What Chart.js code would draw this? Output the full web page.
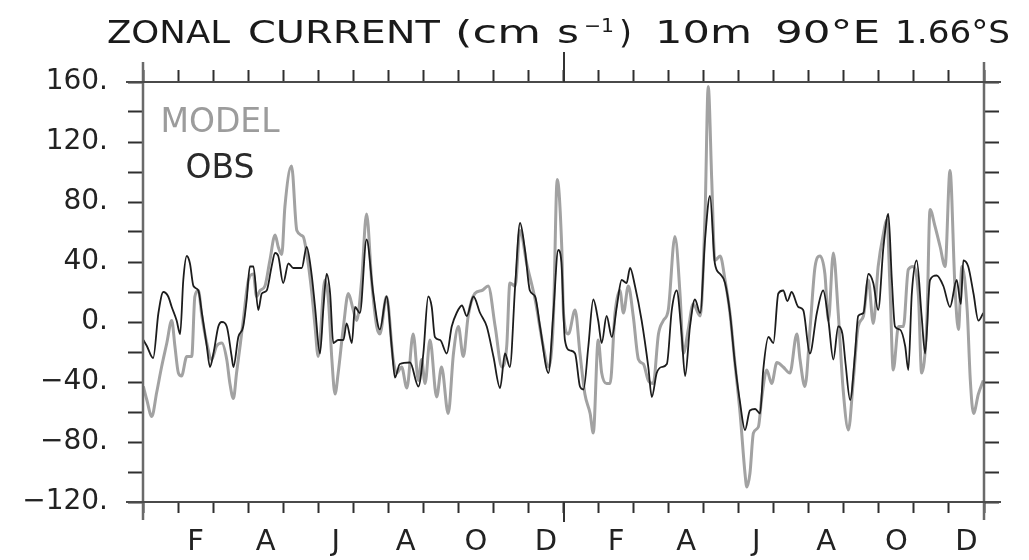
<!DOCTYPE html>
<html>
<head>
<meta charset="utf-8">
<script src="https://cdn.jsdelivr.net/npm/chart.js@4.4.1/dist/chart.umd.min.js"></script>
<style>
  html, body { margin: 0; padding: 0; background: #ffffff; }
  #wrap { width: 1029px; height: 560px; position: relative; }
</style>
</head>
<body>
<div id="wrap"><canvas id="c"></canvas></div>
<script>
// ---- data (time in months from start of record; values in cm/s) ----
const monthLabels = ['F','A','J','A','O','D','F','A','J','A','O','D'];
const yTickLabels = ['\u2212120.','\u221280.','\u221240.','0.','40.','80.','120.','160.'];
const seriesNames = ['MODEL', 'OBS'];

const obsT = [0.01,0.11,0.29,0.44,0.58,0.72,0.82,0.96,1.06,1.15,1.25,1.34,1.44,1.58,1.68,1.82,1.91,2.01,2.15,2.25,2.39,2.53,2.58,2.72,2.86,2.96,3.05,3.15,3.29,3.39,3.53,3.67,3.77,3.86,4.00,4.15,4.29,4.53,4.67,4.81,4.91,5.05,5.15,5.24,5.34,5.43,5.57,5.72,5.81,5.96,6.05,6.19,6.38,6.57,6.76,6.95,7.10,7.19,7.33,7.62,7.86,8.00,8.14,8.24,8.33,8.48,8.67,8.81,8.95,9.10,9.24,9.43,9.62,9.81,10.00,10.19,10.33,10.47,10.62,10.76,10.90,11.04,11.19,11.33,11.57,11.71,11.85,11.94,12.04,12.19,12.33,12.47,12.57,12.71,12.85,12.99,13.09,13.23,13.38,13.52,13.66,13.80,13.90,14.04,14.23,14.42,14.52,14.66,14.80,14.95,15.09,15.23,15.37,15.47,15.61,15.75,15.90,16.04,16.18,16.32,16.47,16.61,16.75,16.89,17.04,17.18,17.32,17.47,17.61,17.70,17.85,17.99,18.13,18.27,18.39,18.51,18.70,18.84,19.03,19.23,19.41,19.56,19.70,19.84,19.96,20.05,20.18,20.32,20.41,20.56,20.70,20.84,20.98,21.13,21.27,21.37,21.46,21.60,21.75,21.84,21.94,22.08,22.22,22.32,22.46,22.65,22.84,23.03,23.22,23.34,23.41,23.55,23.70,23.84,23.98];
const obsV = [-12,-16,-24,6,20,17,10,1,-8,28,44,39,24,21,6,-16,-30,-21,-3,0,-3,-23,-30,-10,-3,15,37,37,8,19,21,37,46,44,26,39,36,36,50,32,10,-21,10,32,19,-14,-12,-12,-1,-14,10,6,55,19,-5,17,-17,-37,-28,-27,-43,-21,17,10,-10,-12,-21,-3,6,11,4,17,6,-3,-23,-44,-21,-30,24,66,48,21,17,-3,-34,6,48,40,-12,-19,-21,-43,-45,-16,15,1,-14,4,-10,10,28,26,36,24,1,-30,-50,-34,-30,-28,8,21,-8,-36,-3,15,6,55,84,39,32,26,6,-27,-54,-72,-59,-58,-61,-32,-10,-14,19,21,14,20,10,8,-21,6,21,1,-25,-3,-8,-28,-52,-21,4,6,32,26,8,50,72,28,-3,-5,-16,-32,19,41,4,-21,28,31,24,10,28,12,41,37,19,1,6];

const modelT = [0.01,0.11,0.25,0.39,0.53,0.68,0.82,0.91,1.01,1.10,1.25,1.39,1.48,1.58,1.68,1.82,1.96,2.10,2.25,2.39,2.48,2.58,2.67,2.77,2.86,3.01,3.15,3.24,3.34,3.48,3.62,3.77,3.86,3.96,4.05,4.24,4.39,4.57,4.67,4.81,4.91,5.00,5.19,5.29,5.39,5.48,5.57,5.72,5.86,6.00,6.10,6.24,6.38,6.53,6.67,6.76,6.95,7.14,7.24,7.38,7.53,7.71,7.86,7.95,8.05,8.19,8.38,8.52,8.71,8.86,9.00,9.14,9.28,9.47,9.67,9.85,10.05,10.24,10.38,10.47,10.62,10.76,10.95,11.19,11.42,11.57,11.71,11.82,11.95,12.00,12.14,12.33,12.47,12.61,12.76,12.85,12.99,13.09,13.23,13.33,13.47,13.61,13.71,13.85,13.99,14.14,14.28,14.42,14.56,14.71,14.85,14.99,15.18,15.33,15.42,15.56,15.70,15.90,16.04,16.13,16.23,16.32,16.47,16.61,16.75,16.89,17.04,17.18,17.23,17.32,17.42,17.56,17.66,17.80,17.94,18.09,18.27,18.46,18.66,18.75,18.89,19.04,19.18,19.32,19.46,19.56,19.70,19.84,19.98,20.13,20.27,20.41,20.56,20.70,20.84,20.98,21.13,21.23,21.32,21.41,21.56,21.70,21.84,21.98,22.13,22.22,22.37,22.46,22.60,22.75,22.89,23.03,23.17,23.27,23.37,23.52,23.61,23.70,23.84,23.98];
const modelV = [-43,-52,-63,-47,-30,-14,1,-16,-34,-36,-23,-23,17,21,4,-14,-25,-16,-14,-25,-41,-51,-34,-16,1,28,32,17,21,24,41,58,50,45,77,104,61,57,46,21,-3,-23,28,15,-25,-48,-34,-3,19,8,1,28,72,26,-3,-8,17,-25,-34,-30,-44,-8,-39,-25,-41,-12,-50,-30,-61,-21,-3,-23,4,19,21,24,-3,-30,-16,26,24,61,39,15,-16,-30,1,95,50,6,-8,8,-21,-48,-61,-74,-12,-34,-41,-41,6,21,6,24,4,-25,-28,-39,-41,-8,1,8,57,17,-21,-5,12,4,72,157,95,41,44,28,6,-27,-61,-101,-110,-101,-74,-70,-50,-32,-41,-27,-30,-34,-8,-25,-43,-3,37,44,32,1,46,6,-45,-72,-39,-3,4,28,-1,37,59,68,21,-32,-3,-3,35,37,17,-34,1,75,64,50,37,101,24,-5,37,8,-39,-61,-48,-39];

const toPoints = (t, v) => t.map((x, i) => ({ x: x, y: v[i] }));

// title "ZONAL CURRENT (cm s⁻¹) 10m 90°E 1.66°S", drawn word by word:
// [text, left x, width, font size, baseline y]
const titleParts = [
  ['ZONAL', 107, 123, 32, 43],
  ['CURRENT', 248, 192, 32, 43],
  ['(cm', 455, 86, 32, 43],
  ['s', 557, 22, 32, 43],
  ['\u22121', 584, 30, 19, 32],
  [')', 619, 13, 32, 43],
  ['10m', 655, 97, 32, 43],
  ['90\u00B0E', 775, 105, 32, 43],
  ['1.66\u00B0S', 895, 115, 32, 43]
];

// ---- custom drawing: frame, year tick, title, in-plot legend ----
const decorPlugin = {
  id: 'decor',
  afterDatasetsDraw(chart) {
    const ctx = chart.ctx;
    const a = chart.chartArea;
    const xs = chart.scales.x;
    ctx.save();
    ctx.lineCap = 'butt';
    ctx.strokeStyle = '#6a6a6a';
    ctx.lineWidth = 2.5;
    ctx.beginPath();
    ctx.moveTo(a.left, a.top - 20); ctx.lineTo(a.left, a.bottom + 18);
    ctx.moveTo(a.right, a.top - 20); ctx.lineTo(a.right, a.bottom + 18);
    ctx.stroke();
    ctx.strokeStyle = '#4a4a4a';
    ctx.lineWidth = 2;
    ctx.beginPath();
    ctx.moveTo(a.left - 17, a.top); ctx.lineTo(a.right + 17, a.top);
    ctx.moveTo(a.left - 17, a.bottom); ctx.lineTo(a.right + 17, a.bottom);
    ctx.stroke();
    const xy = Math.round(xs.getPixelForValue(12));
    ctx.strokeStyle = '#333';
    ctx.lineWidth = 2;
    ctx.beginPath();
    ctx.moveTo(xy, a.top); ctx.lineTo(xy, a.top - 30);
    ctx.moveTo(xy, a.bottom); ctx.lineTo(xy, a.bottom + 20);
    ctx.stroke();
    ctx.restore();
  },
  afterDraw(chart) {
    const ctx = chart.ctx;
    const a = chart.chartArea;
    ctx.save();
    ctx.fillStyle = '#1a1a1a';
    ctx.textAlign = 'left';
    ctx.textBaseline = 'alphabetic';
    titleParts.forEach(([txt, x0, w, size, base]) => {
      ctx.font = size + 'px "DejaVu Sans"';
      const w0 = ctx.measureText(txt).width;
      const sx = Math.min(1.5, Math.max(0.8, w / w0));
      ctx.save();
      ctx.translate(x0, base);
      ctx.scale(sx, 1);
      ctx.fillText(txt, 0, 0);
      ctx.restore();
    });
    // legend labels inside plot
    ctx.font = '33px "DejaVu Sans"';
    ctx.textAlign = 'center';
    ctx.fillStyle = '#9c9c9c';
    ctx.fillText(seriesNames[0], a.left + 77, a.top + 50);
    ctx.fillStyle = '#2a2a2a';
    ctx.fillText(seriesNames[1], a.left + 77, a.top + 96);
    ctx.restore();
  }
};

const tickCommon = { drawOnChartArea: false, drawTicks: true, tickColor: '#2f2f2f', tickWidth: 2 };

new Chart(document.getElementById('c'), {
  type: 'line',
  data: {
    datasets: [
      {
        label: seriesNames[1],
        data: toPoints(obsT, obsV),
        borderColor: '#1c1c1c',
        borderWidth: 1.8,
        pointRadius: 0,
        cubicInterpolationMode: 'monotone',
        fill: false,
        order: 0
      },
      {
        label: seriesNames[0],
        data: toPoints(modelT, modelV),
        borderColor: '#a2a2a2',
        borderWidth: 3,
        pointRadius: 0,
        cubicInterpolationMode: 'monotone',
        fill: false,
        order: 1
      }
    ]
  },
  options: {
    responsive: true,
    maintainAspectRatio: false,
    devicePixelRatio: 1,
    animation: false,
    layout: { padding: 0 },
    plugins: {
      legend: { display: false },
      title: { display: false },
      tooltip: { enabled: false }
    },
    scales: {
      x: {
        type: 'linear',
        position: 'bottom',
        min: 0, max: 24,
        grid: Object.assign({ tickLength: 11 }, tickCommon),
        border: { display: false },
        ticks: {
          stepSize: 1,
          autoSkip: false,
          maxRotation: 0,
          padding: 12,
          labelOffset: 17.5,
          color: '#222',
          font: { family: 'DejaVu Sans', size: 29 },
          callback: (v) => (v % 2 === 1 ? monthLabels[(v - 1) / 2] : '')
        },
        afterFit: (s) => { s.height = 58; }
      },
      xTop: {
        type: 'linear',
        position: 'top',
        min: 0, max: 24,
        grid: Object.assign({ tickLength: 12 }, tickCommon),
        border: { display: false },
        ticks: { stepSize: 1, display: false },
        afterFit: (s) => { s.height = 82; }
      },
      y: {
        type: 'linear',
        position: 'left',
        min: -120, max: 160,
        grid: Object.assign({ tickLength: 15 }, tickCommon),
        border: { display: false },
        ticks: {
          stepSize: 20,
          autoSkip: false,
          padding: 20,
          color: '#222',
          font: { family: 'DejaVu Sans', size: 28 },
          callback: (v) => (v % 40 === 0 ? yTickLabels[(v + 120) / 40] : '')
        },
        afterFit: (s) => { s.width = 143; }
      },
      yR: {
        type: 'linear',
        position: 'right',
        min: -120, max: 160,
        grid: Object.assign({ tickLength: 15 }, tickCommon),
        border: { display: false },
        ticks: { stepSize: 20, display: false },
        afterFit: (s) => { s.width = 45; }
      }
    }
  },
  plugins: [decorPlugin]
});
</script>
</body>
</html>
